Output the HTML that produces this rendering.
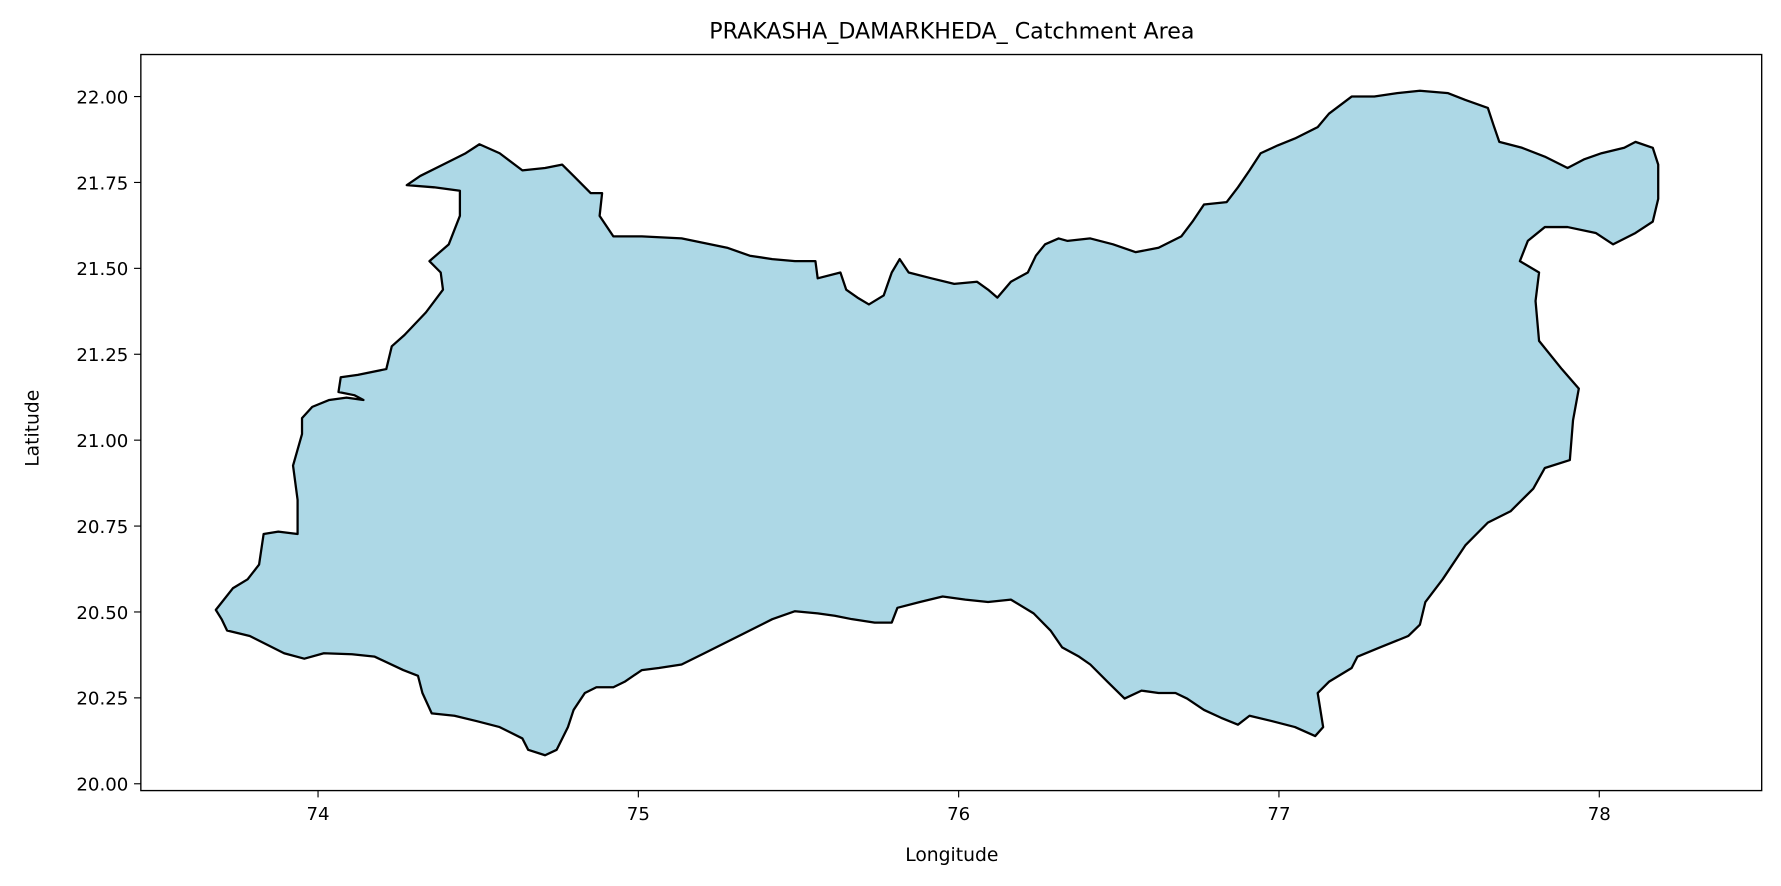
<!DOCTYPE html>
<html><head><meta charset="utf-8"><style>
html,body{margin:0;padding:0;background:#fff;}
svg{display:block;font-family:"DejaVu Sans","Liberation Sans",sans-serif;}
</style></head><body>
<svg id="chart" width="1781" height="886" viewBox="0 0 1568 780" preserveAspectRatio="none">
<rect x="0" y="0" width="1568" height="780" fill="#fff"/>
<text x="838" y="34" font-size="19.5" text-anchor="middle">PRAKASHA_DAMARKHEDA_ Catchment Area</text>
<g id="plot"></g>
<rect x="124" y="48" width="1427" height="648" fill="none" stroke="#000" stroke-width="1.2"/>
<g id="xticks"></g><g id="yticks"></g>
<text x="838" y="758" font-size="16.5" text-anchor="middle">Longitude</text>
<text transform="translate(34,377) rotate(-90)" font-size="16.5" text-anchor="middle">Latitude</text>
</svg>
<script>
const lons=[73.681,73.734,73.780,73.816,73.830,73.876,73.936,73.936,73.922,73.950,73.950,73.982,74.035,74.089,74.142,74.113,74.064,74.071,74.124,74.213,74.230,74.270,74.337,74.390,74.383,74.348,74.408,74.443,74.443,74.362,74.277,74.319,74.390,74.461,74.504,74.567,74.638,74.709,74.762,74.798,74.851,74.887,74.879,74.922,75.011,75.135,75.277,75.348,75.418,75.489,75.553,75.560,75.631,75.649,75.684,75.720,75.766,75.791,75.816,75.844,75.915,75.986,76.057,76.092,76.121,76.163,76.216,76.241,76.270,76.312,76.340,76.411,76.482,76.553,76.624,76.695,76.730,76.766,76.837,76.872,76.908,76.943,76.996,77.050,77.121,77.156,77.227,77.298,77.369,77.440,77.528,77.582,77.652,77.670,77.688,77.759,77.830,77.901,77.954,78.007,78.078,78.113,78.167,78.184,78.184,78.167,78.113,78.043,77.989,77.901,77.830,77.777,77.752,77.812,77.801,77.812,77.883,77.936,77.918,77.908,77.830,77.794,77.723,77.652,77.582,77.511,77.457,77.440,77.404,77.316,77.245,77.227,77.156,77.121,77.138,77.113,77.050,76.979,76.908,76.872,76.819,76.766,76.713,76.677,76.624,76.571,76.518,76.465,76.411,76.376,76.323,76.287,76.234,76.163,76.092,76.021,75.950,75.879,75.809,75.791,75.738,75.667,75.613,75.560,75.489,75.418,75.348,75.277,75.206,75.135,75.064,75.011,74.957,74.922,74.869,74.833,74.798,74.780,74.745,74.709,74.656,74.638,74.567,74.496,74.426,74.355,74.326,74.312,74.266,74.177,74.106,74.018,73.957,73.894,73.787,73.716,73.699];
const lats=[20.506,20.569,20.595,20.638,20.727,20.734,20.727,20.826,20.926,21.018,21.064,21.097,21.117,21.124,21.117,21.131,21.140,21.183,21.190,21.207,21.273,21.306,21.372,21.438,21.488,21.521,21.570,21.653,21.726,21.736,21.742,21.769,21.802,21.835,21.861,21.835,21.785,21.792,21.802,21.769,21.719,21.719,21.653,21.593,21.593,21.587,21.560,21.537,21.527,21.521,21.521,21.471,21.488,21.438,21.415,21.395,21.421,21.488,21.527,21.488,21.471,21.455,21.461,21.438,21.415,21.461,21.488,21.537,21.570,21.587,21.580,21.587,21.570,21.547,21.560,21.593,21.636,21.686,21.693,21.736,21.785,21.835,21.858,21.878,21.911,21.950,22.000,22.000,22.010,22.017,22.010,21.990,21.967,21.917,21.868,21.851,21.825,21.792,21.818,21.835,21.851,21.868,21.851,21.802,21.702,21.636,21.603,21.570,21.603,21.620,21.620,21.580,21.521,21.488,21.405,21.289,21.207,21.150,21.058,20.942,20.919,20.859,20.793,20.760,20.694,20.595,20.529,20.463,20.430,20.397,20.370,20.337,20.297,20.264,20.165,20.139,20.165,20.182,20.198,20.172,20.192,20.215,20.248,20.264,20.264,20.271,20.248,20.297,20.347,20.370,20.397,20.446,20.496,20.536,20.529,20.536,20.545,20.529,20.512,20.469,20.469,20.479,20.489,20.496,20.502,20.479,20.446,20.413,20.380,20.347,20.337,20.331,20.297,20.281,20.281,20.264,20.215,20.165,20.099,20.083,20.099,20.132,20.165,20.182,20.198,20.205,20.264,20.314,20.331,20.370,20.377,20.380,20.364,20.380,20.430,20.446,20.479];
const xTicks=[74,75,76,77,78];
const yTicks=[20.00,20.25,20.50,20.75,21.00,21.25,21.50,21.75,22.00];
const NS='http://www.w3.org/2000/svg';
function xs(v){return 280+(v-74)*282;}
function ys(v){return 85+(22-v)*302.5;}
const plot=document.getElementById('plot');
const poly=document.createElementNS(NS,'polygon');


poly.setAttribute('points',lons.map((l,i)=>xs(l).toFixed(1)+','+ys(lats[i]).toFixed(1)).join(' '));
poly.setAttribute('fill','#add8e6');
poly.setAttribute('stroke','#000');
poly.setAttribute('stroke-width','2');
poly.setAttribute('stroke-linejoin','round');
plot.appendChild(poly);
const gx=document.getElementById('xticks');
xTicks.forEach(t=>{
  const ln=document.createElementNS(NS,'line');
  
  
  ln.setAttribute('x1',xs(t));ln.setAttribute('x2',xs(t));ln.setAttribute('y1',696);ln.setAttribute('y2',702);
  ln.setAttribute('stroke','#000');gx.appendChild(ln);
  const tx=document.createElementNS(NS,'text');
  
  
  tx.setAttribute('x',xs(t));tx.setAttribute('y',722);tx.setAttribute('font-size','16');tx.setAttribute('text-anchor','middle');
  tx.textContent=String(t);gx.appendChild(tx);
});
const gy=document.getElementById('yticks');
yTicks.forEach(t=>{
  const ln=document.createElementNS(NS,'line');
  
  
  ln.setAttribute('x1',118);ln.setAttribute('x2',124);ln.setAttribute('y1',ys(t));ln.setAttribute('y2',ys(t));
  ln.setAttribute('stroke','#000');gy.appendChild(ln);
  const tx=document.createElementNS(NS,'text');
  
  
  tx.setAttribute('x',113);tx.setAttribute('y',ys(t)+6);tx.setAttribute('font-size','16');tx.setAttribute('text-anchor','end');
  tx.textContent=t.toFixed(2);gy.appendChild(tx);
});
</script>
</body></html>
